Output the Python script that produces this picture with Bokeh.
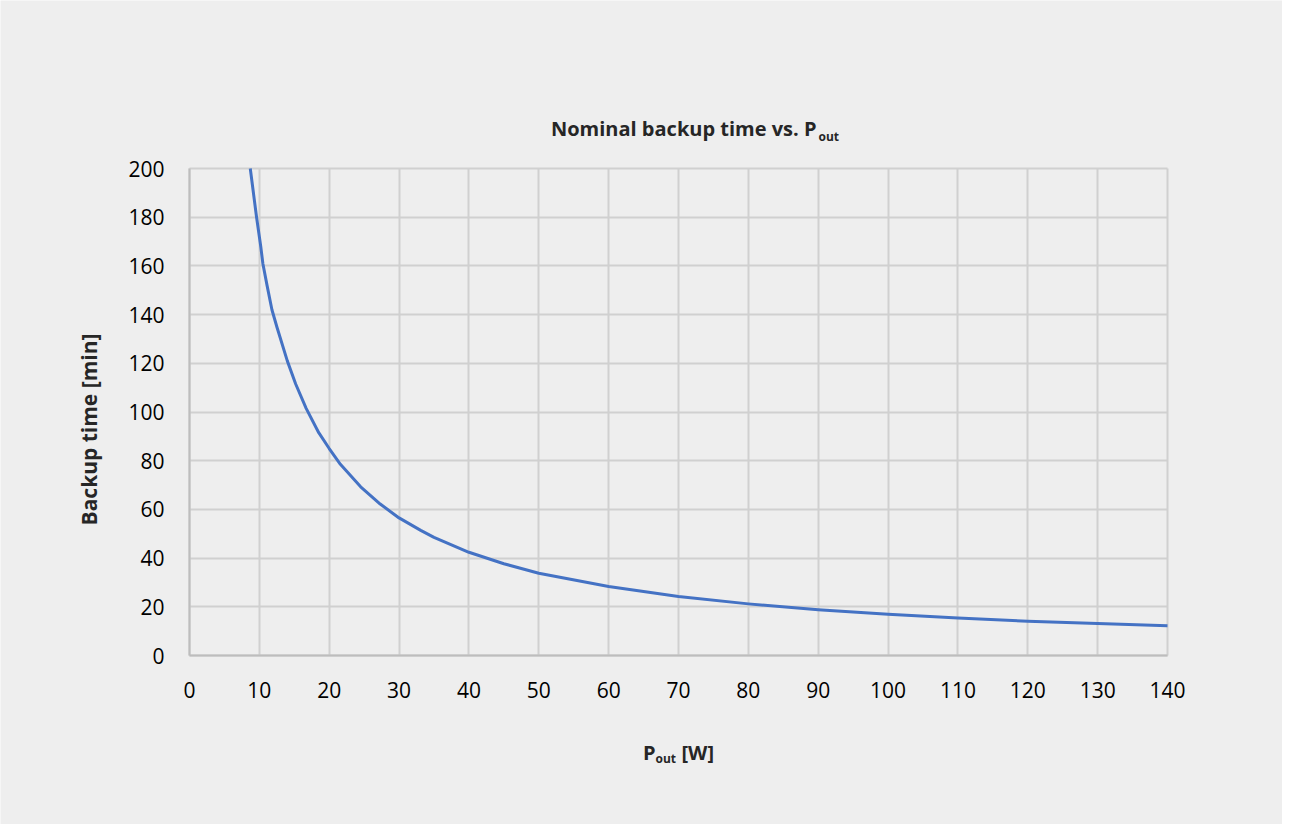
import math
from bokeh.plotting import figure
from bokeh.models import Range1d, FixedTicker, Label, LinearAxis, Grid
from bokeh.embed import file_html
from bokeh.resources import INLINE

# ---- Data ----
p_out_w = [8.7, 9.6, 10.2, 10.5, 11.1, 11.8, 12.5, 14, 15.2, 16.7, 18.5, 20, 21.6,
           24.5, 27.3, 30, 33.1, 35, 40, 45, 50, 60, 70, 80, 90, 100, 110, 120,
           130, 140]
backup_min = [200, 180, 168, 161, 152, 142, 135, 121, 111.5, 101.5, 91.5, 85, 78.5,
              69.3, 62.2, 56.5, 51.4, 48.5, 42.4, 37.7, 33.8, 28.3, 24.2, 21.2, 18.8,
              16.9, 15.4, 14.1, 13.1, 12.2]
x_ticks = list(range(0, 141, 10))
y_ticks = list(range(0, 201, 20))
x_min, x_max = 0, 140
y_min, y_max = 0, 200

# ---- Layout (pixels) ----
W, H = 1282, 824
FL, FR, FT, FB = 189, 1167, 168, 655   # plotting-area edges on the canvas
sx = (FR - FL) / (x_max - x_min)
sy = (FB - FT) / (y_max - y_min)
xr = Range1d(x_min - FL / sx, x_max + (W - FR) / sx)
yr = Range1d(y_min - (H - FB) / sy, y_max + FT / sy)

BG = "#EEEEEE"
GRID = "#D0D0D0"
AXIS = "#BDBDBD"
TXT = "#262626"
FONT = "Open Sans"

p = figure(width=W, height=H, output_backend="svg", toolbar_location=None,
           x_range=xr, y_range=yr, x_axis_type=None, y_axis_type=None,
           min_border=0)
p.background_fill_color = BG
p.border_fill_color = BG
p.outline_line_color = None

xt = FixedTicker(ticks=x_ticks)
yt = FixedTicker(ticks=y_ticks)

p.add_layout(Grid(dimension=0, ticker=xt, bounds=(x_min, x_max),
                  cross_bounds=(y_min, y_max),
                  grid_line_color=GRID, grid_line_width=2))
p.add_layout(Grid(dimension=1, ticker=yt, bounds=(y_min, y_max),
                  cross_bounds=(x_min, x_max),
                  grid_line_color=GRID, grid_line_width=2))

xaxis = LinearAxis(ticker=xt, fixed_location=y_min, bounds=(x_min, x_max))
yaxis = LinearAxis(ticker=yt, fixed_location=x_min, bounds=(y_min, y_max))
for ax in (xaxis, yaxis):
    ax.axis_line_color = AXIS
    ax.axis_line_width = 2
    ax.major_tick_line_color = None
    ax.minor_tick_line_color = None
    ax.major_label_text_font = FONT
    ax.major_label_text_font_size = "21px"
    ax.major_label_text_color = "#000000"
xaxis.major_label_standoff = 20
yaxis.major_label_standoff = 19
p.add_layout(xaxis, "below")
p.add_layout(yaxis, "left")

p.line(p_out_w, backup_min, line_color="#4472C4", line_width=3, line_join="round")

# ---- Texts, placed in canvas pixels (screen units measured from bottom-left) ----
def lab(ax_px, ay_px, text, size, align="left", angle=0):
    p.add_layout(Label(x=ax_px, y=H - ay_px, x_units="screen", y_units="screen",
                       text=text, text_font=FONT, text_font_style="bold",
                       text_font_size=size, text_color=TXT, text_align=align,
                       text_baseline="alphabetic", angle=angle))

# Title: "Nominal backup time vs. P_out"
lab(816, 128, "Nominal backup time vs. P", "20px", align="right")
lab(818, 136, "out", "12px")
# X axis label: "P_out [W]"
lab(655, 752, "P", "20px", align="right")
lab(655, 758, "out", "12px")
lab(681, 752, "[W]", "20px")
# Y axis label
lab(88, 429, "Backup time [min]", "21px", align="center", angle=math.pi / 2)

open("out.html", "w").write(file_html(p, INLINE))
